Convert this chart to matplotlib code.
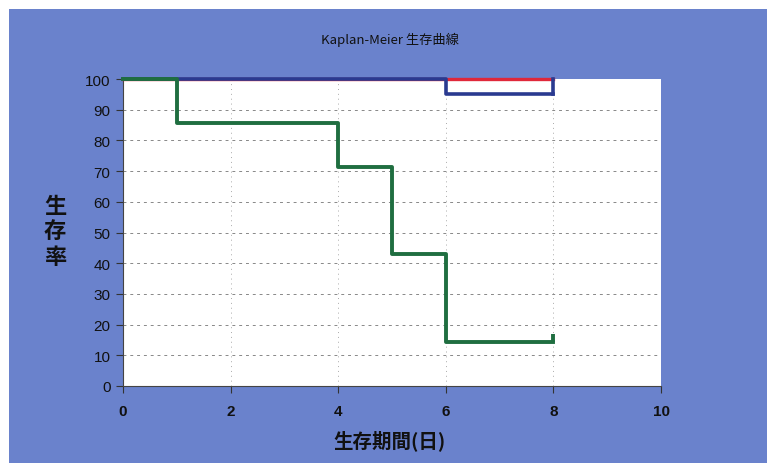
import matplotlib.pyplot as plt
from matplotlib.patches import Rectangle

plt.rcParams['font.family'] = ['Noto Sans CJK JP', 'DejaVu Sans']

# Kaplan-Meier estimates per group (time in days, survival in %)
red_t = [0, 8]
red_s = [100, 100]
blue_t = [0, 6, 8]
blue_s = [100, 95, 95]
green_t = [0, 1, 4, 5, 6, 8]
green_s = [100, 85.7, 71.4, 42.9, 14.3, 14.3]

# censored observations at the end of follow-up: (time, survival, tick top)
blue_cens = (8, 95, 100)
green_cens = (8, 14.3, 17)

x_ticks = [0, 2, 4, 6, 8, 10]
y_ticks = [0, 10, 20, 30, 40, 50, 60, 70, 80, 90, 100]

bg = '#6a82cc'
c_red = '#e0283a'
c_blue = '#2a3a90'
c_green = '#1f6e40'

fig = plt.figure(figsize=(7.67, 4.64), dpi=100)
fig.patch.set_facecolor('white')
fig.patches.append(Rectangle((9 / 767, 0), 1, 1 - 10 / 464, transform=fig.transFigure,
                             facecolor=bg, edgecolor='none', zorder=-10))

ax = fig.add_axes([123 / 767, 1 - 387 / 464, 538 / 767, 307 / 464])
ax.set_facecolor('white')

ax.step(red_t, red_s, where='post', color=c_red, lw=2.4, zorder=3, clip_on=False)
ax.step(blue_t, blue_s, where='post', color=c_blue, lw=2.6, zorder=4, clip_on=False)
ax.plot([blue_cens[0]] * 2, blue_cens[1:], color=c_blue, lw=2.6, zorder=4,
        solid_capstyle='projecting', clip_on=False)
ax.step(green_t, green_s, where='post', color=c_green, lw=2.8, zorder=5, clip_on=False)
ax.plot([green_cens[0]] * 2, green_cens[1:], color=c_green, lw=2.8, zorder=5,
        solid_capstyle='butt')

ax.set_xlim(0, 10)
ax.set_ylim(0, 100)
ax.set_xticks(x_ticks)
ax.set_yticks(y_ticks)
ax.set_xticklabels([str(v) for v in x_ticks], fontsize=11, fontweight='bold',
                   family='Liberation Sans', color='#111111')
ax.set_yticklabels([str(v) for v in y_ticks], fontsize=11,
                   family='Liberation Sans', color='#111111')
ax.tick_params(axis='both', direction='out', length=5, width=0.8, color='#333333')
ax.tick_params(axis='x', pad=8)
ax.tick_params(axis='y', pad=4)

ax.grid(axis='y', color='#888888', linestyle=(0, (3, 4)), lw=0.7)
ax.grid(axis='x', color='#aaaaaa', linestyle=(0, (1, 4)), lw=0.7)
ax.yaxis.get_gridlines()[-1].set_visible(False)
ax.xaxis.get_gridlines()[-1].set_visible(False)
ax.set_axisbelow(True)

for side in ['top', 'right']:
    ax.spines[side].set_visible(False)
for side in ['left', 'bottom']:
    ax.spines[side].set_color('#444444')
    ax.spines[side].set_linewidth(0.8)

fig.text(390 / 767, 1 - 40 / 464, 'Kaplan-Meier 生存曲線', ha='center', va='center',
         fontsize=9.5, color='#111111')
fig.text(55 / 767, 1 - 232 / 464, '生\n存\n率', ha='center', va='center',
         fontsize=16, fontweight='bold', linespacing=1.15, color='#111111')
fig.text(390 / 767, 1 - 441 / 464, '生存期間(日)', ha='center', va='center',
         fontsize=14, fontweight='bold', color='#111111')

fig.savefig('out.png', dpi=100, facecolor=fig.get_facecolor())
